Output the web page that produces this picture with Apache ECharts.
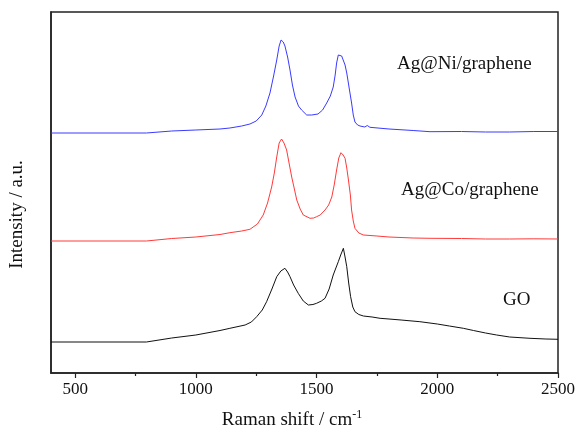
<!DOCTYPE html>
<html>
<head>
<meta charset="utf-8">
<script src="https://cdn.jsdelivr.net/npm/echarts@6/dist/echarts.min.js"></script>
<style>
html,body{margin:0;padding:0;background:#fff;}
#chart{width:580px;height:436px;}
</style>
</head>
<body>
<div id="chart"></div>
<script>
// ---- data (Raman shift cm^-1, intensity a.u. with vertical offsets) ----
const seriesNames = ["Ag@Ni/graphene", "Ag@Co/graphene", "GO"];
const majorTicks = [500, 1000, 1500, 2000, 2500];
const minorTicks = [750, 1250, 1750, 2250];

const agNi = [[400,240],[795,240],[800,241.5],[900,242],[1000,243],[1100,244],[1141,245],[1190,247],[1224,249],[1250,252],[1273,258],[1290,267],[1307,280],[1322,297],[1335,313],[1345,327],[1353,333],[1362,331],[1369,327],[1380,316],[1390,303],[1400,288],[1411,276],[1425,267],[1438,263],[1459,258],[1480,258],[1506,259],[1525,263],[1542,270],[1557,277],[1569,286],[1577,298],[1583,310],[1590,318],[1596,319],[1604,317],[1611,315],[1618,308],[1625,300],[1635,285],[1645,270],[1652,258],[1659,251],[1670,248],[1680,247],[1700,246],[1710,247.5],[1721,245.7],[1800,244],[1900,242.5],[1970,241.3],[2100,241.5],[2200,241],[2300,241],[2400,241.5],[2500,241.5]];

const agCo = [[400,132],[795,132],[800,133.5],[900,134.5],[1000,136],[1100,138.5],[1141,140.3],[1190,142],[1224,143.7],[1255,149],[1279,158],[1297,170],[1314,186],[1325,200],[1335,216],[1345,230],[1355,234],[1365,230],[1376,223],[1386,210],[1397,196],[1408,184],[1418,173],[1432,164],[1445,158],[1473,154.7],[1488,155],[1500,156.3],[1515,158],[1535,163],[1550,168],[1563,176],[1573,188],[1583,203],[1592,215],[1601,220.3],[1610,218],[1618,214.7],[1625,205],[1632,193],[1640,178],[1645,163],[1652,152],[1659,144.7],[1675,140],[1694,138],[1750,137],[1800,136],[1900,135],[1970,134.7],[2100,134.5],[2200,134],[2300,134],[2400,134.2],[2500,134]];

const go = [[400,31],[795,31],[800,32.5],[900,35],[1000,38],[1100,42.5],[1141,44.7],[1204,48],[1230,51],[1252,56.3],[1275,63],[1293,71.3],[1315,84],[1335,96.3],[1352,102],[1369,104.7],[1380,101],[1390,96.3],[1405,88],[1424,79.7],[1445,72],[1466,68],[1485,68.5],[1500,69.7],[1520,72],[1535,74.7],[1552,84],[1569,98],[1580,105],[1590,111.3],[1600,118],[1611,124.7],[1618,116],[1625,106.3],[1633,90],[1641,76.3],[1650,66],[1659,61.3],[1675,58.5],[1694,57],[1730,56],[1763,54.7],[1800,54],[1850,53],[1928,51.3],[2000,49],[2050,47],[2108,44.7],[2150,42.5],[2200,40],[2246,38],[2300,36],[2384,34.7],[2450,34],[2500,33.7]];

const FONT = "'Liberation Serif', 'Times New Roman', serif";
const chart = echarts.init(document.getElementById('chart'), null, {renderer: 'canvas'});

const option = {
  animation: false,
  backgroundColor: '#fff',
  grid: {left: 51, right: 22, top: 12, bottom: 63, show: true, borderColor: '#222', borderWidth: 1.5, backgroundColor: 'transparent'},
  xAxis: [{
    type: 'value', min: 400, max: 2500,
    axisLine: {show: true, lineStyle: {color: '#222', width: 1.5}},
    axisTick: {show: true, customValues: majorTicks, length: 5, inside: false, lineStyle: {color: '#222', width: 1.2}},
    axisLabel: {show: true, customValues: majorTicks, formatter: function (v) { return String(v); }, fontFamily: FONT, fontSize: 17, color: '#111', margin: 8},
    splitLine: {show: false},
    name: 'Raman shift / cm{sup|-1}',
    nameLocation: 'middle', nameGap: 36,
    nameTextStyle: {fontFamily: FONT, fontSize: 19, color: '#111', padding: [0, 25, 0, 0],
      rich: {sup: {fontFamily: FONT, fontSize: 12, color: '#111', verticalAlign: 'top', padding: [0, 0, 10, 0]}}}
  }, {
    type: 'value', min: 400, max: 2500, position: 'bottom',
    axisLine: {show: false},
    axisTick: {show: true, customValues: minorTicks, length: 3, lineStyle: {color: '#222', width: 1.2}},
    axisLabel: {show: false},
    splitLine: {show: false}
  }],
  yAxis: {
    type: 'value', min: 0, max: 361,
    axisLine: {show: true, lineStyle: {color: '#222', width: 1.5}},
    axisTick: {show: false}, axisLabel: {show: false}, splitLine: {show: false},
    name: 'Intensity / a.u.', nameLocation: 'middle', nameGap: 24, nameRotate: 90,
    nameTextStyle: {fontFamily: FONT, fontSize: 19, color: '#111', padding: [0, 44, 0, 0]}
  },
  series: [
    {name: seriesNames[0], type: 'line', data: agNi, showSymbol: false, symbol: 'none', lineStyle: {color: '#3a3aff', width: 1}, xAxisIndex: 0},
    {name: seriesNames[1], type: 'line', data: agCo, showSymbol: false, symbol: 'none', lineStyle: {color: '#ff3a3a', width: 1}, xAxisIndex: 0},
    {name: seriesNames[2], type: 'line', data: go, showSymbol: false, symbol: 'none', lineStyle: {color: '#111', width: 1}, xAxisIndex: 0}
  ],
  graphic: [
    {type: 'text', x: 397, y: 64, style: {text: seriesNames[0], font: '19px ' + FONT, fill: '#111', verticalAlign: 'middle'}},
    {type: 'text', x: 401, y: 190, style: {text: seriesNames[1], font: '19px ' + FONT, fill: '#111', verticalAlign: 'middle'}},
    {type: 'text', x: 503, y: 300, style: {text: seriesNames[2], font: '19px ' + FONT, fill: '#111', verticalAlign: 'middle'}}
  ]
};
chart.setOption(option);
</script>
</body>
</html>
